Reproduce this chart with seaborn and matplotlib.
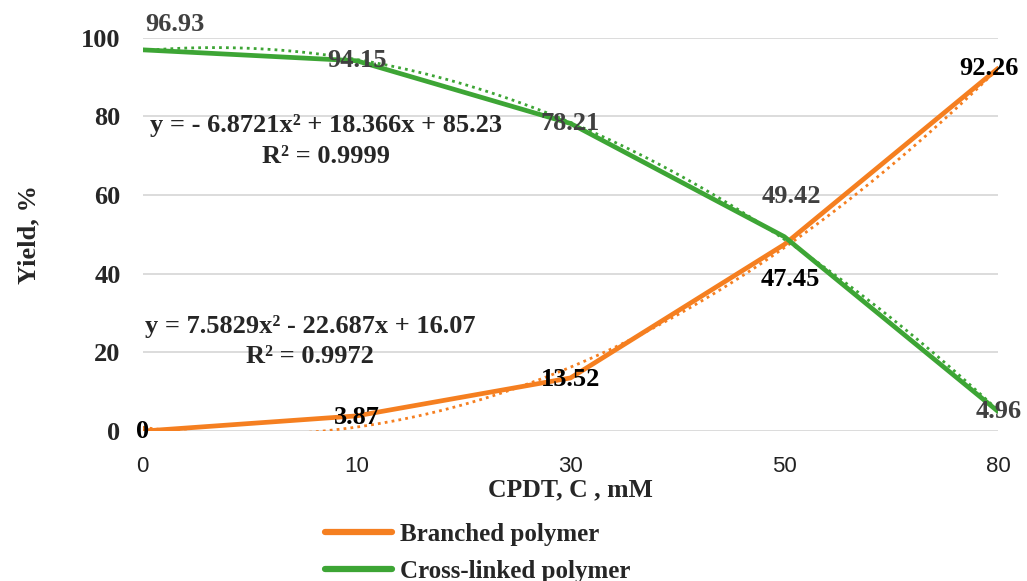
import numpy as np
import pandas as pd
import matplotlib
matplotlib.use("Agg")
import matplotlib.pyplot as plt
import seaborn as sns

categories = ["0", "10", "30", "50", "80"]
branched = [0, 3.87, 13.52, 47.45, 92.26]
crosslinked = [96.93, 94.15, 78.21, 49.42, 4.96]
branched_eq = "y = 7.5829x² - 22.687x + 16.07\nR² = 0.9972"
crosslinked_eq = "y = - 6.8721x² + 18.366x + 85.23\nR² = 0.9999"
yticks = [0, 20, 40, 60, 80, 100]

ORANGE = "#F57F20"
GREEN = "#3DA535"
SERIF = "Liberation Serif"
FS = 19

sns.set_theme(style="white")
plt.rcParams["font.family"] = [SERIF, "DejaVu Serif"]

pos = np.arange(len(categories))
df = pd.DataFrame({"pos": pos, "Branched polymer": branched,
                   "Cross-linked polymer": crosslinked})

fig = plt.figure(figsize=(10.27, 5.81), dpi=100)
ax = fig.add_axes([0.139, 0.258, 0.833, 0.677])

sns.lineplot(data=df, x="pos", y="Branched polymer", color=ORANGE, lw=3.4,
             ax=ax, label="Branched polymer", zorder=3)
sns.lineplot(data=df, x="pos", y="Cross-linked polymer", color=GREEN, lw=3.4,
             ax=ax, label="Cross-linked polymer", zorder=3)
sns.regplot(data=df, x="pos", y="Branched polymer", order=2, ci=None,
            scatter=False, ax=ax, truncate=True,
            line_kws=dict(color=ORANGE, lw=2.0, ls=(0, (1, 1.5)), zorder=2))
sns.regplot(data=df, x="pos", y="Cross-linked polymer", order=2, ci=None,
            scatter=False, ax=ax, truncate=True,
            line_kws=dict(color=GREEN, lw=2.0, ls=(0, (1, 1.5)), zorder=2))

ax.set_xlim(0, len(categories) - 1)
ax.set_ylim(0, 100)
ax.set_yticks(yticks)
ax.set_yticklabels([str(v) for v in yticks], fontsize=FS, fontweight="bold",
                   family=SERIF)
ax.set_xticks(pos)
ax.set_xticklabels(categories, fontsize=16, family="Liberation Sans",
                   color="#222222")
ax.tick_params(axis="both", length=0)
ax.tick_params(axis="x", pad=18)
ax.tick_params(axis="y", pad=16)
ax.yaxis.grid(True, color="#D9D9D9", lw=1.3)
ax.set_axisbelow(True)
for s in ax.spines.values():
    s.set_visible(False)
ax.set_xlabel("CPDT, C , mM", fontsize=18.5, fontweight="bold", labelpad=1)
ax.set_ylabel("Yield, %", fontsize=FS, fontweight="bold", labelpad=29)

# data labels (offsets in points)
lab_kw = dict(fontsize=FS, fontweight="bold", ha="center", va="center",
              textcoords="offset points", zorder=5)
g_off = [(23, 18), (0, 0), (0, 0), (5, 29), (0, 0)]
o_off = [(0, 0), (0, -1), (0, -1), (4, -25.5), (-6.5, 0)]
for i in range(len(categories)):
    ax.annotate(f"{crosslinked[i]:g}", (pos[i], crosslinked[i]), xytext=g_off[i],
                color="#404040", **lab_kw)
    ax.annotate(f"{branched[i]:g}", (pos[i], branched[i]), xytext=o_off[i],
                color="black", **lab_kw)

ax.text(0.033, 80.6, crosslinked_eq, fontsize=FS, fontweight="bold",
        ha="left", va="top", linespacing=1.45, multialignment="center",
        transform=ax.transData, zorder=5)
ax.text(0.01, 29.4, branched_eq, fontsize=FS, fontweight="bold",
        ha="left", va="top", linespacing=1.38, multialignment="center",
        transform=ax.transData, zorder=5)

leg = ax.legend(loc="upper left", bbox_to_anchor=(0.316, 0.100),
                bbox_transform=fig.transFigure, ncol=1, frameon=False,
                prop=dict(family=SERIF, weight="bold", size=18),
                handlelength=2.7, handletextpad=0.3, labelspacing=0.55,
                borderpad=0, borderaxespad=0)
for h in leg.get_lines():
    h.set_linewidth(4.5)

fig.savefig("out.png", dpi=100)
